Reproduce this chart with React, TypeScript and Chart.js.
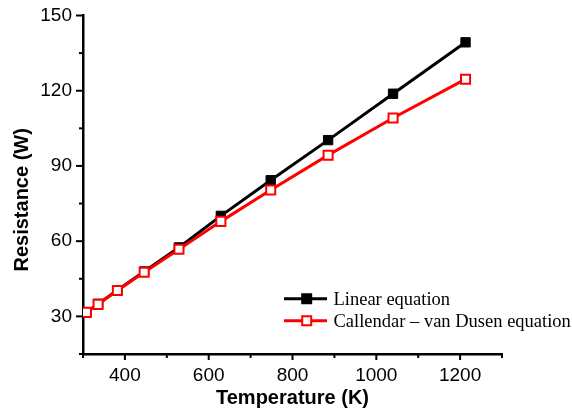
import React, { useEffect, useRef } from "react";
import { Chart, registerables } from "chart.js";

Chart.register(...registerables);

// Data
const temperatures = [308, 336, 382, 446, 529, 629, 748, 885, 1040, 1213];
const linearValues = [31.6, 35.0, 40.4, 47.9, 57.5, 70.1, 84.3, 100.3, 118.8, 139.3];
const cvdValues = [31.6, 34.8, 40.3, 47.6, 56.8, 67.9, 80.4, 94.3, 109.1, 124.6];

const xMajorTicks = [400, 600, 800, 1000, 1200];
const xMinorTicks = [300, 500, 700, 900, 1100, 1300];
const yMajorTicks = [30, 60, 90, 120, 150];
const yMinorTicks = [15, 45, 75, 105, 135];

const seriesNames = ["Linear equation", "Callendar \u2013 van Dusen equation"];
const xTitle = "Temperature (K)";
const yTitle = "Resistance (W)";

const SANS = "'Liberation Sans', Arial, sans-serif";
const SERIF = "'Liberation Serif', 'Times New Roman', serif";

const decorPlugin = {
  id: "decor",
  afterDraw(chart: any) {
    const ctx = chart.ctx;
    const xs = chart.scales.x;
    const ys = chart.scales.y;
    const area = chart.chartArea;
    ctx.save();
    ctx.strokeStyle = "#000";
    ctx.lineWidth = 2;
    ctx.lineCap = "butt";
    const yTick = (v: number, len: number) => {
      const p = ys.getPixelForValue(v);
      ctx.beginPath();
      ctx.moveTo(area.left, p);
      ctx.lineTo(area.left - len, p);
      ctx.stroke();
    };
    yMajorTicks.forEach((v) => yTick(v, 7));
    yMinorTicks.forEach((v) => yTick(v, 4));
    const xTick = (v: number, len: number) => {
      const p = xs.getPixelForValue(v);
      ctx.beginPath();
      ctx.moveTo(p, area.bottom);
      ctx.lineTo(p, area.bottom + len);
      ctx.stroke();
    };
    xMajorTicks.forEach((v) => xTick(v, 6));
    xMinorTicks.forEach((v) => xTick(v, 4));

    // axis titles
    ctx.fillStyle = "#000";
    ctx.font = `bold 20px ${SANS}`;
    ctx.textAlign = "center";
    ctx.textBaseline = "alphabetic";
    ctx.fillText(xTitle, (area.left + area.right) / 2, 404);
    ctx.save();
    ctx.translate(27.5, 271.5);
    ctx.rotate(-Math.PI / 2);
    ctx.textAlign = "left";
    ctx.fillText(yTitle, 0, 0);
    ctx.restore();

    // legend
    const items = [
      { name: seriesNames[0], color: "#000", fill: "#000", y: 298.7 },
      { name: seriesNames[1], color: "#ff0000", fill: "#fff", y: 320.7 },
    ];
    items.forEach((it) => {
      ctx.strokeStyle = it.color;
      ctx.lineWidth = 3;
      ctx.beginPath();
      ctx.moveTo(284, it.y);
      ctx.lineTo(327, it.y);
      ctx.stroke();
      ctx.fillStyle = it.fill;
      ctx.lineWidth = 2;
      ctx.beginPath();
      ctx.rect(306.7 - 4.5, it.y - 4.5, 9, 9);
      ctx.fill();
      ctx.stroke();
      ctx.fillStyle = "#000";
      ctx.font = `18.5px ${SERIF}`;
      ctx.textAlign = "left";
      ctx.textBaseline = "middle";
      ctx.fillText(it.name, 333.5, it.y + 1);
    });
    ctx.restore();
  },
};

export default function App() {
  const canvasRef = useRef<HTMLCanvasElement | null>(null);

  useEffect(() => {
    document.body.style.margin = "0";
    const canvas = canvasRef.current;
    if (!canvas) return;
    const chart = new Chart(canvas, {
      type: "line",
      data: {
        datasets: [
          {
            label: seriesNames[0],
            data: temperatures.map((t, i) => ({ x: t, y: linearValues[i] })),
            borderColor: "#000",
            backgroundColor: "#000",
            pointBackgroundColor: "#000",
            pointBorderColor: "#000",
            borderWidth: 3,
            pointStyle: "rect",
            pointRadius: 6.6,
            pointBorderWidth: 1,
            order: 1,
          },
          {
            label: seriesNames[1],
            data: temperatures.map((t, i) => ({ x: t, y: cvdValues[i] })),
            borderColor: "#ff0000",
            backgroundColor: "#fff",
            pointBackgroundColor: "#fff",
            pointBorderColor: "#ff0000",
            borderWidth: 3,
            pointStyle: "rect",
            pointRadius: 6.4,
            pointBorderWidth: 2,
            order: 0,
          },
        ],
      },
      options: {
        animation: false,
        responsive: false,
        maintainAspectRatio: false,
        layout: { padding: { left: 0, right: 70, top: 15.5, bottom: 0 } },
        plugins: {
          legend: { display: false },
          tooltip: { enabled: false },
        },
        scales: {
          x: {
            type: "linear",
            min: 300,
            max: 1300,
            afterBuildTicks: (scale: any) => {
              scale.ticks = xMajorTicks.map((v) => ({ value: v }));
            },
            afterFit: (scale: any) => {
              scale.height = 61;
              scale.paddingLeft = 0;
              scale.paddingRight = 0;
            },
            grid: { display: false, drawTicks: false },
            border: { display: true, color: "#000", width: 2.5 },
            ticks: {
              color: "#000",
              padding: 10,
              font: { family: SANS, size: 19 },
              maxRotation: 0,
              callback: (v: any) => String(v),
            },
          },
          y: {
            type: "linear",
            min: 15,
            max: 150,
            afterBuildTicks: (scale: any) => {
              scale.ticks = yMajorTicks.map((v) => ({ value: v }));
            },
            afterFit: (scale: any) => {
              scale.width = 83;
              scale.paddingTop = 0;
              scale.paddingBottom = 0;
            },
            grid: { display: false, drawTicks: false },
            border: { display: true, color: "#000", width: 2.5 },
            ticks: {
              color: "#000",
              padding: 11,
              font: { family: SANS, size: 19 },
              callback: (v: any) => String(v),
            },
          },
        },
      },
      plugins: [decorPlugin],
    });
    return () => chart.destroy();
  }, []);

  return (
    <div style={{ width: 572, height: 415, background: "#fff" }}>
      <canvas ref={canvasRef} width={572} height={415} style={{ display: "block" }} />
    </div>
  );
}
